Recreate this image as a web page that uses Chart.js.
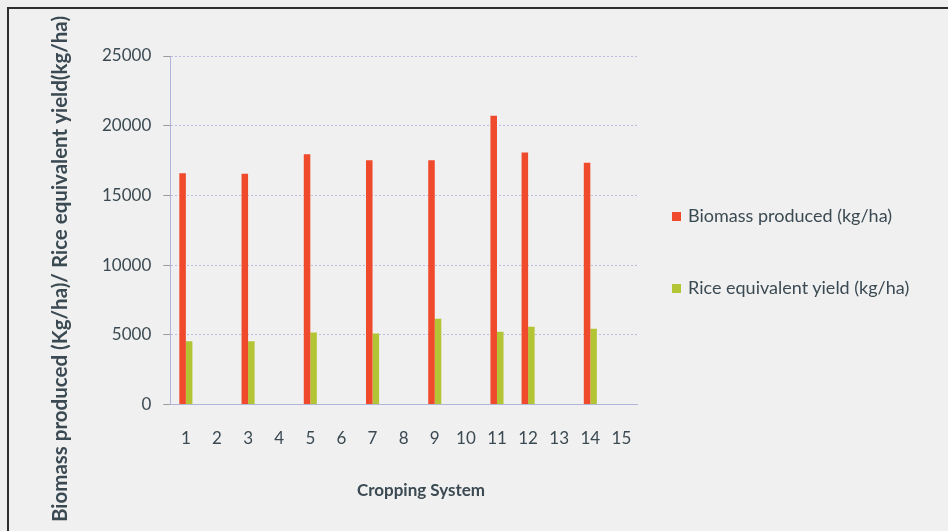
<!DOCTYPE html>
<html>
<head>
<meta charset="utf-8">
<script src="https://cdn.jsdelivr.net/npm/chart.js@4.4.0/dist/chart.umd.min.js"></script>
<style>
  html, body { margin:0; padding:0; background:#efefef; }
  body { width:948px; height:531px; overflow:hidden; position:relative; font-family: Lato, "Open Sans", sans-serif; }
  #frame {
    position:absolute; left:7px; top:7px; width:941px; height:524px;
    border-left:2px solid #2e2e2e; border-top:2px solid #2e2e2e;
    box-sizing:border-box; background:#f0f0f0;
  }
  #wrap { position:absolute; left:9px; top:9px; width:939px; height:522px; }
  .leg { position:absolute; left:672px; font-size:18px; color:#3b4a52; white-space:nowrap; line-height:20px; }
  .leg i { display:inline-block; width:9px; height:9px; margin-right:7px; vertical-align:1px; }
</style>
</head>
<body>
<div id="frame"></div>
<div id="wrap"><canvas id="c" width="939" height="522"></canvas></div>
<div id="legend"></div>
<script>
// 横轴：种植制度编号 1-15，只有部分有数据
const systems = ['1','2','3','4','5','6','7','8','9','10','11','12','13','14','15'];
const biomass  = [16600, null, 16550, null, 17950, null, 17530, null, 17530, null, 20710, 18080, null, 17340, null];
const riceEq   = [4550,  null, 4550,  null, 5170,  null, 5100,  null, 6150,  null, 5220,  5580,  null, 5440,  null];
const yTicks   = [0, 5000, 10000, 15000, 20000, 25000];
const xTitle = 'Cropping System';
const yTitle = 'Biomass produced (Kg/ha)/ Rice equivalent yield(kg/ha)';

const txt = '#3b4a52';
const font = 'Lato, "Open Sans", sans-serif';

// 轴标题自己画，参考图里它们没有对准绘图区中心
const axisTitles = {
  id: 'axisTitles',
  afterDraw(c){
    const ctx = c.ctx;
    ctx.save();
    ctx.fillStyle = txt;
    ctx.textAlign = 'center';
    ctx.textBaseline = 'middle';
    ctx.font = `bold 17px ${font}`;
    ctx.fillText(xTitle, 412, 482);
    ctx.translate(51, 260);
    ctx.rotate(-Math.PI/2);
    ctx.font = `bold 20.5px ${font}`;
    ctx.fillText(yTitle, 0, 0);
    ctx.restore();
  }
};

const chart = new Chart(document.getElementById('c'), {
  type: 'bar',
  data: {
    labels: systems,
    datasets: [
      {
        label: 'Biomass produced (kg/ha)',
        data: biomass,
        backgroundColor: '#f04a2c',
        categoryPercentage: 0.42,
        barPercentage: 1.0
      },
      {
        label: 'Rice equivalent yield (kg/ha)',
        data: riceEq,
        backgroundColor: '#b3c535',
        categoryPercentage: 0.42,
        barPercentage: 1.0
      }
    ]
  },
  options: {
    responsive: false,
    animation: false,
    skipNull: true,
    layout: { padding: { left: 81, top: 47, right: 311, bottom: 58 } },
    plugins: {
      legend: { display: false },
      tooltip: { enabled: false }
    },
    scales: {
      x: {
        grid: { display: false, drawTicks: false },
        border: { color: '#b0b4d8', width: 1 },
        ticks: { color: txt, font: { family: font, size: 17 }, padding: 24, maxRotation: 0, autoSkip: false }
      },
      y: {
        min: 0, max: 25000,
        afterBuildTicks: ax => { ax.ticks = yTicks.map(v => ({ value: v })); },
        grid: { color: '#b9bde2', lineWidth: 1, tickLength: 7, tickColor: '#9a9a9a' },
        border: { color: '#b0b4d8', dash: [2, 2] },
        ticks: { color: txt, font: { family: font, size: 17 }, padding: 12, callback: v => String(v) }
      }
    }
  },
  plugins: [axisTitles]
});

// 图例用 HTML 画，位置按参考图
const legItems = [
  { text: chart.data.datasets[0].label, color: chart.data.datasets[0].backgroundColor, top: 205 },
  { text: chart.data.datasets[1].label, color: chart.data.datasets[1].backgroundColor, top: 277 }
];
const legWrap = document.getElementById('legend');
legItems.forEach(it => {
  const d = document.createElement('div');
  d.className = 'leg';
  d.style.top = it.top + 'px';
  d.innerHTML = `<i style="background:${it.color}"></i>${it.text}`;
  legWrap.appendChild(d);
});
</script>
</body>
</html>
